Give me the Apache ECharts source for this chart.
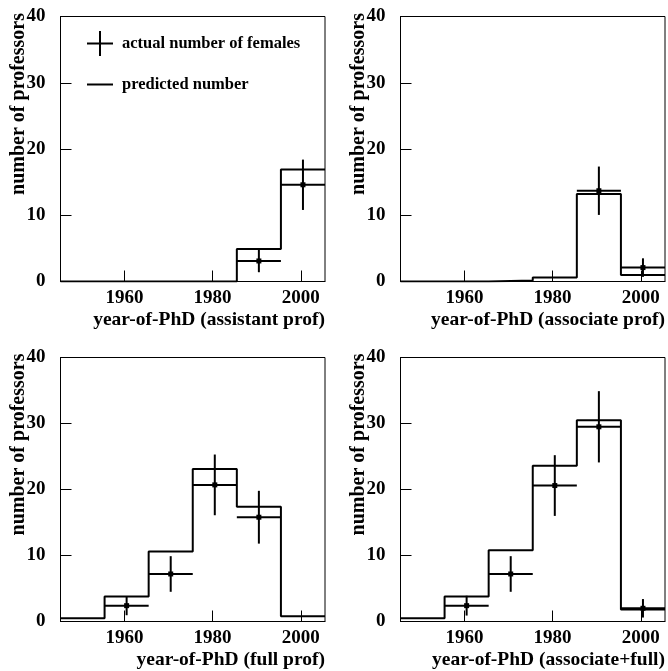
<!DOCTYPE html>
<html>
<head>
<meta charset="utf-8">
<script src="https://cdn.jsdelivr.net/npm/echarts@6.0.0/dist/echarts.min.js"></script>
<style>
html,body{margin:0;padding:0;background:#fff;}
#chart{width:668px;height:671px;}
</style>
</head>
<body>
<div id="chart"></div>
<script>
// ---- data ----
const binCenters = [1950.5, 1960.5, 1970.5, 1980.5, 1990.5, 2000.5];
const binWidth = 10;
const xTicks = [1960, 1980, 2000];

const predictedAssistant = [0, 0, 0, 0, 4.9, 16.9];
const actualAssistant    = [0, 0, 0, 0, 3.1, 14.6];
const errorAssistant     = [0, 0, 0, 0, 1.7, 3.8];

const predictedAssociate = [0, 0, 0.15, 0.6, 13.2, 1.0];
const actualAssociate    = [0, 0, 0, 0, 13.7, 2.1];
const errorAssociate     = [0, 0, 0, 0, 3.65, 1.4];

const predictedFull = [0.5, 3.8, 10.6, 23.1, 17.4, 0.8];
const actualFull    = [0, 2.4, 7.2, 20.7, 15.8, 0];
const errorFull     = [0, 1.45, 2.7, 4.6, 4.0, 0];

const predictedAssocFull = [0.5, 3.8, 10.8, 23.6, 30.5, 1.8];
const actualAssocFull    = [0, 2.4, 7.2, 20.6, 29.5, 2.0];
const errorAssocFull     = [0, 1.5, 2.7, 4.6, 5.4, 1.4];

const panelTitles = [
  'year-of-PhD (assistant prof)',
  'year-of-PhD (associate prof)',
  'year-of-PhD (full prof)',
  'year-of-PhD (associate+full)'
];
const yTitle = 'number of professors';
const legendActual = 'actual number of females';
const legendPredicted = 'predicted number';

const panels = [
  {pred: predictedAssistant, act: actualAssistant, err: errorAssistant},
  {pred: predictedAssociate, act: actualAssociate, err: errorAssociate},
  {pred: predictedFull, act: actualFull, err: errorFull},
  {pred: predictedAssocFull, act: actualAssocFull, err: errorAssocFull}
];

// ---- layout ----
const FONT = '"Liberation Serif", "Times New Roman", serif';
const grids = [
  {left: 60.5, top: 16.5, width: 264.5, height: 265},
  {left: 400.5, top: 16.5, width: 264.5, height: 265},
  {left: 60.5, top: 357.5, width: 264.5, height: 264},
  {left: 400.5, top: 357.5, width: 264.5, height: 264}
];
const xMin = binCenters[0] - binWidth / 2;
const xMax = binCenters[binCenters.length - 1] + binWidth / 2;

function histPoints(vals) {
  const pts = [];
  vals.forEach((v, i) => {
    pts.push([binCenters[i] - binWidth / 2, v]);
    pts.push([binCenters[i] + binWidth / 2, v]);
  });
  return pts;
}
function errPoints(act, err) {
  const pts = [];
  act.forEach((v, i) => { if (v > 0) pts.push([binCenters[i], v, err[i]]); });
  return pts;
}
function renderErr(params, api) {
  const x = api.value(0), y = api.value(1), e = api.value(2);
  const pL = api.coord([x - binWidth / 2, y]);
  const pR = api.coord([x + binWidth / 2, y]);
  const pT = api.coord([x, y + e]);
  const pB = api.coord([x, Math.max(0, y - e)]);
  const pC = api.coord([x, y]);
  const st = {stroke: '#000', lineWidth: 2};
  return {
    type: 'group',
    children: [
      {type: 'line', shape: {x1: pL[0], y1: pL[1], x2: pR[0], y2: pR[1]}, style: st},
      {type: 'line', shape: {x1: pT[0], y1: pT[1], x2: pB[0], y2: pB[1]}, style: st},
      {type: 'rect', shape: {x: pC[0] - 2.5, y: pC[1] - 2.5, width: 5, height: 5}, style: {fill: '#000'}}
    ]
  };
}

const xAxes = [], yAxes = [], series = [];
grids.forEach((g, i) => {
  xAxes.push({
    type: 'value', gridIndex: i, min: xMin, max: xMax,
    name: panelTitles[i], nameLocation: 'end', nameGap: 0,
    nameMoveOverlap: false,
    nameTextStyle: {fontFamily: FONT, fontWeight: 'bold', fontSize: 19.5, color: '#000',
      align: 'right', verticalAlign: 'top', padding: [28, 0, 0, 0]},
    axisLine: {show: true, onZero: false, lineStyle: {color: '#000', width: 1}},
    axisTick: {show: true, inside: true, length: 11, customValues: xTicks, lineStyle: {color: '#000', width: 1}},
    axisLabel: {show: true, customValues: xTicks, margin: 7, formatter: v => String(v),
      fontFamily: FONT, fontWeight: 'bold', fontSize: 19, color: '#000'},
    splitLine: {show: false}
  });
  yAxes.push({
    type: 'value', gridIndex: i, min: 0, max: 40, interval: 10,
    name: yTitle, nameLocation: 'middle', nameRotate: 90, nameGap: 32,
    nameMoveOverlap: false,
    nameTextStyle: {fontFamily: FONT, fontWeight: 'bold', fontSize: 20, color: '#000', padding: [0, 0, 0, 90]},
    axisLine: {show: true, onZero: false, lineStyle: {color: '#000', width: 1}},
    axisTick: {show: true, inside: true, length: 11, lineStyle: {color: '#000', width: 1}},
    axisLabel: {show: true, margin: 15, fontFamily: FONT, fontWeight: 'bold', fontSize: 19, color: '#000'},
    splitLine: {show: false}
  });
  series.push({
    type: 'line', name: legendPredicted, xAxisIndex: i, yAxisIndex: i,
    data: histPoints(panels[i].pred), symbol: 'none', showSymbol: false,
    lineStyle: {color: '#000', width: 2}, itemStyle: {color: '#000'},
    animation: false, z: 3
  });
  series.push({
    type: 'custom', name: legendActual, xAxisIndex: i, yAxisIndex: i,
    data: errPoints(panels[i].act, panels[i].err), renderItem: renderErr,
    encode: {x: 0, y: 1}, itemStyle: {color: '#000'}, animation: false, z: 4
  });
});

const option = {
  backgroundColor: '#fff',
  animation: false,
  color: ['#000'],
  grid: grids.map(g => Object.assign({show: true, borderColor: '#000', borderWidth: 1, backgroundColor: 'transparent', containLabel: false}, g)),
  xAxis: xAxes,
  yAxis: yAxes,
  legend: {
    left: 87, top: 31, orient: 'vertical', padding: 0,
    itemWidth: 26, itemHeight: 25, itemGap: 20, selectedMode: false,
    textStyle: {fontFamily: FONT, fontWeight: 'bold', fontSize: 16.5, color: '#000', padding: [0, 0, 0, 4]},
    data: [
      {name: legendActual, icon: 'path://M0,11.5 h26 v2 h-26 z M12,0 h2 v25 h-2 z'},
      {name: legendPredicted, icon: 'path://M0,0 h26 v2 h-26 z'}
    ]
  },
  series: series
};
const chart = echarts.init(document.getElementById('chart'), null, {renderer: 'canvas'});
chart.setOption(option);
</script>
</body>
</html>
